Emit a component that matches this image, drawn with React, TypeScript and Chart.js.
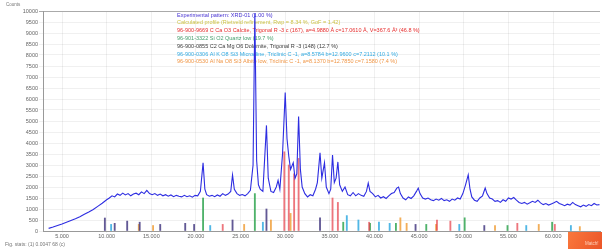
import React, { useEffect, useRef } from 'react';
import { Chart, registerables } from 'chart.js';

Chart.register(...registerables);

// ---- Experimental pattern (2θ, counts) ----
const expX = [
  3.5, 4.0, 4.5, 5.0, 5.5, 6.0, 6.5, 7.0, 7.5, 8.0, 8.5, 9.0, 9.5, 10.0, 10.3, 10.6, 10.9, 11.2, 11.5, 11.8,
  12.1, 12.4, 12.7, 13.0, 13.3, 13.6, 13.9, 14.2, 14.5, 14.8, 15.1, 15.4, 15.7, 16.0, 16.3, 16.6, 16.9, 17.2, 17.5, 17.8,
  18.1, 18.4, 18.7, 19.0, 19.3, 19.6, 19.9, 20.2, 20.5, 20.8, 21.0, 21.2, 21.5, 21.8, 22.1, 22.4, 22.7, 23.0, 23.3, 23.6,
  23.9, 24.1, 24.3, 24.6, 24.9, 25.2, 25.5, 25.8, 26.1, 26.4, 26.6, 26.8, 27.0, 27.2, 27.5, 27.9, 28.1, 28.4, 28.7, 29.0,
  29.2, 29.4, 29.7, 30.0, 30.2, 30.4, 30.6, 30.9, 31.1, 31.3, 31.5, 31.7, 31.9, 32.2, 32.5, 32.8, 33.1, 33.4, 33.6, 33.9,
  34.1, 34.4, 34.6, 34.9, 35.1, 35.3, 35.5, 35.7, 35.9, 36.1, 36.4, 36.7, 37.0, 37.3, 37.6, 37.9, 38.2, 38.5, 38.8, 39.1,
  39.3, 39.5, 39.8, 40.1, 40.4, 40.7, 41.0, 41.3, 41.6, 41.9, 42.2, 42.5, 42.7, 42.9, 43.2, 43.5, 43.8, 44.1, 44.4, 44.7,
  44.9, 45.1, 45.4, 45.7, 46.0, 46.3, 46.6, 46.9, 47.2, 47.5, 47.8, 48.1, 48.4, 48.7, 49.0, 49.3, 49.6, 49.9, 50.2, 50.5,
  50.7, 50.9, 51.2, 51.5, 51.8, 52.1, 52.4, 52.6, 52.9, 53.2, 53.5, 53.8, 54.1, 54.4, 54.7, 55.0, 55.3, 55.6, 55.9, 56.2,
  56.5, 56.8, 57.1, 57.4, 57.7, 58.0, 58.3, 58.6, 58.9, 59.2, 59.5, 59.8, 60.1, 60.4, 60.7, 61.0, 61.3, 61.6, 61.9, 62.2,
  62.5, 62.8, 63.1, 63.4, 63.7, 64.0, 64.3, 64.6, 64.9, 65.2,
];
const expY = [
  120, 180, 250, 320, 400, 480, 560, 650, 760, 860, 980, 1120, 1260, 1420, 1500, 1600, 1550, 1680, 1620, 1720,
  1640, 1700, 1600, 1680, 1720, 1650, 1780, 1700, 1850, 1700, 1650, 1700, 1620, 1680, 1600, 1650, 1580, 1640, 1560, 1620,
  1580, 1550, 1620, 1560, 1600, 1540, 1620, 1600, 1800, 3100, 1900, 1650, 1580, 1620, 1560, 1640, 1580, 1700, 1620, 1680,
  1800, 2550, 1900, 1700, 1620, 1660, 1600, 1700, 1850, 3000, 9900, 3200, 2100, 1900, 1800, 4800, 2400, 1800, 1750, 2000,
  2300, 1900, 3500, 6300, 4200, 3400, 2800, 3100, 2400, 2600, 5200, 2800, 2000, 1700, 1550, 1650, 1600, 1900, 2200, 3550,
  2400, 3100, 2000, 1700, 1900, 3450, 2200, 2400, 3140, 2100, 1800, 2000, 1650, 1600, 1750, 1600, 1700, 1620, 1580, 1800,
  2180, 1800, 1700, 1550, 1620, 1500, 1560, 1480, 1600, 1700, 1750, 1950, 2000, 1700, 1500, 1420, 1550, 1480, 1600, 1800,
  1950, 1700, 1500, 1450, 1500, 1420, 1380, 1450, 1400, 1480, 1380, 1420, 1350, 1450, 1400, 1500, 1450, 1700, 2100, 2550,
  1900, 1550, 1400, 1350, 1500, 1600, 1950, 1700, 1500, 1450, 1350, 1380, 1300, 1420, 1350, 1500, 1450, 1520, 1400, 1300,
  1250, 1300, 1220, 1280, 1350, 1300, 1400, 1280, 1200, 1250, 1180, 1230, 1280, 1350, 1250, 1200, 1150, 1220, 1180, 1300,
  1200, 1150, 1100, 1180, 1120, 1200, 1150, 1250, 1180, 1200,
];

// ---- Reference phase sticks (2θ, counts) ----
const phaseRedPos = [23.0, 29.9, 30.4, 31.0, 31.5, 35.3, 35.9, 39.4, 47.0, 48.5, 56.0, 60.2];
const phaseRedInt = [300, 3600, 3000, 2600, 3300, 1500, 1300, 400, 500, 450, 350, 300];
const phaseGreenPos = [20.8, 26.6, 36.5, 39.5, 42.4, 45.8, 50.1, 54.9, 59.9];
const phaseGreenInt = [1500, 1700, 400, 350, 350, 300, 600, 250, 400];
const phaseDarkPos = [9.8, 10.9, 12.3, 13.7, 16.0, 18.8, 19.8, 24.1, 27.9, 33.9, 44.6, 52.3];
const phaseDarkInt = [590, 350, 450, 400, 300, 350, 300, 500, 1000, 600, 300, 250];
const phaseCyanPos = [10.5, 21.6, 27.5, 36.9, 38.2, 40.5, 41.7, 49.5, 57.0, 62.0];
const phaseCyanInt = [300, 250, 400, 700, 500, 400, 350, 300, 250, 250];
const phaseOrangePos = [13.6, 15.2, 25.4, 28.4, 30.6, 42.9, 43.6, 46.9, 53.5, 58.4, 63.0];
const phaseOrangeInt = [300, 250, 300, 500, 800, 600, 350, 300, 250, 300, 200];

const xTicks = [5, 10, 15, 20, 25, 30, 35, 40, 45, 50, 55, 60];

const legendLabels = [
  'Experimental pattern: XRD-01 (1.00 %)',
  'Calculated profile (Rietveld refinement, Rwp = 8.34 %, GoF = 1.42)',
  '96-900-9669 C Ca O3 Calcite, Trigonal R -3 c (167), a=4.9880 Å c=17.0610 Å, V=367.6 Å³ (46.8 %)',
  '96-901-3322 Si O2 Quartz low (19.7 %)',
  '96-900-0855 C2 Ca Mg O6 Dolomite, Trigonal R -3 (148) (12.7 %)',
  '96-900-0306 Al K O8 Si3 Microcline, Triclinic C -1, a=8.5784 b=12.9600 c=7.2112 (10.1 %)',
  '96-900-0530 Al Na O8 Si3 Albite low, Triclinic C -1, a=8.1370 b=12.7850 c=7.1580 (7.4 %)',
];
const legendColors = [
  'rgb(70,50,210)',
  'rgb(205,195,70)',
  'rgb(230,45,45)',
  'rgb(70,160,110)',
  'rgb(60,60,60)',
  'rgb(50,170,225)',
  'rgb(240,150,70)',
];
const stickColors = [
  'rgba(230,60,70,0.7)',
  'rgba(60,170,90,0.9)',
  'rgba(70,60,130,0.85)',
  'rgba(50,170,225,0.85)',
  'rgba(240,160,60,0.85)',
];

const yAxisTitle = 'Counts';
const statsText = 'Fig. stats: (1) 0.0047 68 (c)';

const overlay = {
  id: 'overlay',
  beforeDatasetsDraw(chart: any) {
    const ctx = chart.ctx;
    ctx.save();
    ctx.font = '5.5px "Liberation Sans", Arial, sans-serif';
    ctx.textBaseline = 'middle';
    ctx.textAlign = 'left';
    legendLabels.forEach((t, i) => {
      ctx.fillStyle = legendColors[i];
      ctx.fillText(t, 177, 15 + i * 7.8);
    });
    ctx.restore();
  },
  afterDraw(chart: any) {
    const ctx = chart.ctx;
    ctx.save();
    ctx.textBaseline = 'middle';
    ctx.textAlign = 'left';
    ctx.fillStyle = '#777';
    ctx.font = '4.5px "Liberation Sans", Arial, sans-serif';
    ctx.fillText(yAxisTitle, 6, 5);
    ctx.font = '5px "Liberation Sans", Arial, sans-serif';
    ctx.fillText(statsText, 5, 245);
    const g = ctx.createLinearGradient(568, 232, 602, 249);
    g.addColorStop(0, 'rgb(250,120,60)');
    g.addColorStop(1, 'rgb(235,85,40)');
    ctx.fillStyle = g;
    ctx.fillRect(568, 232, 34, 17);
    ctx.fillStyle = 'rgba(255,220,200,0.9)';
    ctx.font = '4.5px "Liberation Sans", Arial, sans-serif';
    ctx.fillText('Match!', 585, 244);
    ctx.restore();
  },
};

export default function App() {
  const ref = useRef<HTMLCanvasElement | null>(null);
  useEffect(() => {
    if (!ref.current) return;
    const phases = [
      [phaseRedPos, phaseRedInt],
      [phaseGreenPos, phaseGreenInt],
      [phaseDarkPos, phaseDarkInt],
      [phaseCyanPos, phaseCyanInt],
      [phaseOrangePos, phaseOrangeInt],
    ];
    const chart = new Chart(ref.current, {
      type: 'line',
      data: {
        datasets: [
          {
            type: 'line',
            label: legendLabels[0],
            data: expX.map((x, i) => ({ x, y: expY[i] })),
            borderColor: 'rgb(45,45,225)',
            borderWidth: 1.1,
            pointRadius: 0,
            tension: 0,
            order: 0,
          } as any,
          ...phases.map((p, k) => ({
            type: 'bar',
            label: legendLabels[k + 2],
            data: p[0].map((x, i) => ({ x, y: p[1][i] })),
            backgroundColor: stickColors[k],
            barThickness: 1.2,
            grouped: false,
            order: 1,
          })) as any,
        ],
      },
      options: {
        responsive: false,
        animation: false,
        layout: { padding: { top: 11, right: 2, left: 0, bottom: 0 } },
        plugins: { legend: { display: false }, tooltip: { enabled: false }, title: { display: false } },
        scales: {
          x: {
            type: 'linear',
            offset: false,
            min: 2.87,
            max: 65.26,
            afterBuildTicks: (s: any) => {
              s.ticks = xTicks.map((v) => ({ value: v }));
            },
            afterFit: (s: any) => {
              s.height = 20;
            },
            ticks: {
              autoSkip: false,
              maxRotation: 0,
              padding: 0,
              color: '#666',
              font: { size: 5.5, family: '"Liberation Sans", Arial, sans-serif' },
              callback: (v: any) => Number(v).toFixed(3),
            },
            grid: { offset: false, color: 'rgba(0,0,0,0.06)', tickLength: 2 },
            border: { color: '#999' },
          },
          y: {
            min: 0,
            max: 10000,
            afterFit: (s: any) => {
              s.width = 43;
            },
            ticks: {
              stepSize: 500,
              autoSkip: false,
              padding: 1,
              color: '#666',
              font: { size: 5.5, family: '"Liberation Sans", Arial, sans-serif' },
              callback: (v: any) => String(v),
            },
            grid: {
              color: (c: any) => (c.tick && c.tick.value === 10000 ? '#aaa' : 'rgba(0,0,0,0.06)'),
              tickLength: 4,
            },
            border: { color: '#999' },
          },
        },
      } as any,
      plugins: [overlay],
    });
    return () => chart.destroy();
  }, []);
  return (
    <div style={{ position: 'absolute', left: 0, top: 0, width: 602, height: 251, background: '#fff' }}>
      <canvas ref={ref} width={602} height={251} style={{ display: 'block', width: 602, height: 251 }} />
    </div>
  );
}
